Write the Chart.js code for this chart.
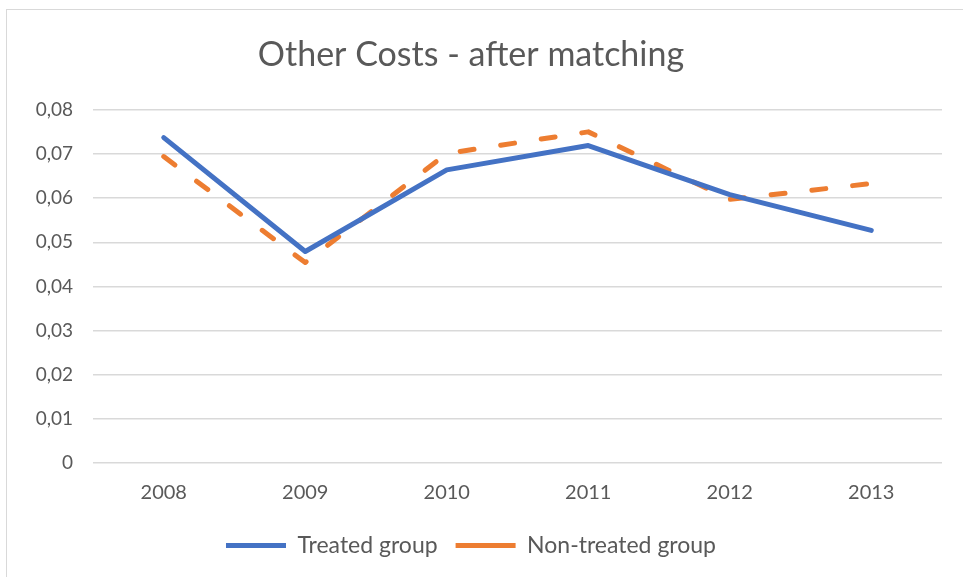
<!DOCTYPE html>
<html>
<head>
<meta charset="utf-8">
<script src="https://cdn.jsdelivr.net/npm/chart.js@4"></script>
<style>
  html, body { margin: 0; padding: 0; background: #fff; }
  #wrap { position: relative; width: 963px; height: 577px; overflow: hidden; }
  #frame { position: absolute; left: 6px; top: 9px; width: 1000px; height: 600px; border: 1px solid #d9d9d9; box-sizing: border-box; }
  #graf { position: absolute; left: 0; top: 0; }
</style>
</head>
<body>
<div id="wrap">
  <div id="frame"></div>
  <canvas id="graf" width="963" height="577"></canvas>
</div>
<script>
// dados
const anos = ["2008", "2009", "2010", "2011", "2012", "2013"];
const tratados = [0.0737, 0.0479, 0.0664, 0.0719, 0.0608, 0.0527];
const naoTratados = [0.0694, 0.0454, 0.0701, 0.0750, 0.0597, 0.0633];
const rotulosY = ["0", "0,01", "0,02", "0,03", "0,04", "0,05", "0,06", "0,07", "0,08"];

const corTexto = "#595959";
const fonte = "Lato, 'Open Sans', sans-serif";

var ctx = document.getElementById("graf").getContext("2d");
var chart = new Chart(ctx, {
  type: "line",
  data: {
    labels: anos,
    datasets: [
      {
        label: "Treated group",
        data: tratados,
        borderColor: "#4472C4",
        backgroundColor: "#4472C4",
        borderWidth: 5,
        pointRadius: 0,
        borderCapStyle: "round",
        borderJoinStyle: "round",
        tension: 0,
      },
      {
        label: "Non-treated group",
        data: naoTratados,
        borderColor: "#ED7D31",
        backgroundColor: "#ED7D31",
        borderWidth: 5,
        borderDash: [14, 27],
        pointRadius: 0,
        borderCapStyle: "round",
        borderJoinStyle: "round",
        tension: 0,
      },
    ],
  },
  options: {
    responsive: false,
    animation: false,
    layout: { padding: { top: 35, left: 0, right: 21, bottom: 10 } },
    plugins: {
      title: {
        display: true,
        text: "Other Costs - after matching",
        color: corTexto,
        font: { family: fonte, size: 34, weight: "normal" },
        padding: { top: 0, bottom: 34 },
      },
      legend: {
        position: "bottom",
        labels: {
          color: corTexto,
          font: { family: fonte, size: 23 },
          usePointStyle: true,
          pointStyle: "line",
          pointStyleWidth: 60,
          boxWidth: 60,
          boxHeight: 5,
          padding: 18,
        },
      },
      tooltip: { enabled: false },
    },
    scales: {
      x: {
        offset: true,
        grid: { display: false, drawTicks: false },
        border: { display: false },
        ticks: { color: corTexto, font: { family: fonte, size: 20 }, padding: 18 },
        afterFit: function (eixo) { eixo.height = 53; },
      },
      y: {
        min: 0,
        max: 0.08,
        grid: { color: "#d9d9d9", lineWidth: 1.5, drawTicks: false },
        border: { display: false },
        ticks: {
          stepSize: 0.01,
          color: corTexto,
          font: { family: fonte, size: 19 },
          padding: 20,
          callback: function (v, i) { return rotulosY[i]; },
        },
        afterFit: function (eixo) { eixo.width = 93; },
      },
    },
  },
});
</script>
</body>
</html>
